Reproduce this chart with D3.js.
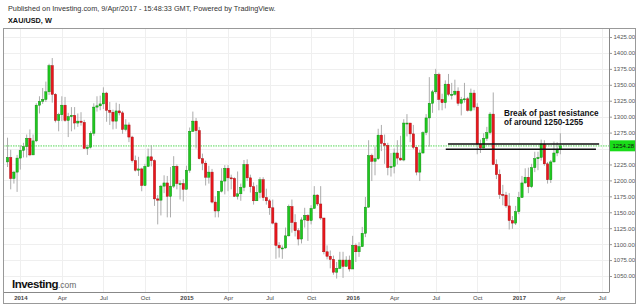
<!DOCTYPE html>
<html><head><meta charset="utf-8">
<script src="https://cdn.jsdelivr.net/npm/d3@7"></script>
<style>
body{margin:0;background:#fff}
svg{display:block;font-family:Arial,"Liberation Sans",Helvetica,sans-serif}
</style>
</head><body>
<svg id="c" width="640" height="305"></svg>
<script>
// ---- DATA (weekly XAU/USD candles) ----
const weeks = [
"2013-12-09","2013-12-16","2013-12-23","2013-12-30",
"2014-01-06","2014-01-13","2014-01-20","2014-01-27","2014-02-03","2014-02-10","2014-02-17","2014-02-24",
"2014-03-03","2014-03-10","2014-03-17","2014-03-24","2014-03-31","2014-04-07","2014-04-14","2014-04-21","2014-04-28",
"2014-05-05","2014-05-12","2014-05-19","2014-05-26","2014-06-02","2014-06-09","2014-06-16","2014-06-23","2014-06-30",
"2014-07-07","2014-07-14","2014-07-21","2014-07-28","2014-08-04","2014-08-11","2014-08-18","2014-08-25",
"2014-09-01","2014-09-08","2014-09-15","2014-09-22","2014-09-29","2014-10-06","2014-10-13","2014-10-20","2014-10-27",
"2014-11-03","2014-11-10","2014-11-17","2014-11-24","2014-12-01","2014-12-08","2014-12-15","2014-12-22","2014-12-29",
"2015-01-05","2015-01-12","2015-01-19","2015-01-26","2015-02-02","2015-02-09","2015-02-16","2015-02-23",
"2015-03-02","2015-03-09","2015-03-16","2015-03-23","2015-03-30","2015-04-06","2015-04-13","2015-04-20","2015-04-27",
"2015-05-04","2015-05-11","2015-05-18","2015-05-25","2015-06-01","2015-06-08","2015-06-15","2015-06-22","2015-06-29",
"2015-07-06","2015-07-13","2015-07-20","2015-07-27","2015-08-03","2015-08-10","2015-08-17","2015-08-24","2015-08-31",
"2015-09-07","2015-09-14","2015-09-21","2015-09-28","2015-10-05","2015-10-12","2015-10-19","2015-10-26",
"2015-11-02","2015-11-09","2015-11-16","2015-11-23","2015-11-30","2015-12-07","2015-12-14","2015-12-21","2015-12-28",
"2016-01-04","2016-01-11","2016-01-18","2016-01-25","2016-02-01","2016-02-08","2016-02-15","2016-02-22","2016-02-29",
"2016-03-07","2016-03-14","2016-03-21","2016-03-28","2016-04-04","2016-04-11","2016-04-18","2016-04-25",
"2016-05-02","2016-05-09","2016-05-16","2016-05-23","2016-05-30","2016-06-06","2016-06-13","2016-06-20","2016-06-27",
"2016-07-04","2016-07-11","2016-07-18","2016-07-25","2016-08-01","2016-08-08","2016-08-15","2016-08-22","2016-08-29",
"2016-09-05","2016-09-12","2016-09-19","2016-09-26","2016-10-03","2016-10-10","2016-10-17","2016-10-24","2016-10-31",
"2016-11-07","2016-11-14","2016-11-21","2016-11-28","2016-12-05","2016-12-12","2016-12-19","2016-12-26",
"2017-01-02","2017-01-09","2017-01-16","2017-01-23","2017-01-30","2017-02-06","2017-02-13","2017-02-20","2017-02-27",
"2017-03-06","2017-03-13","2017-03-20","2017-03-27","2017-04-03"
];
const open = [
1229,1236,1203,1213,
1235,1247,1253,1266, 1240,1262,1318,1324, 1327,1339,1380,1335,1294, 1303,1318,1294,1300, 1302,1290,1293,1291,
1250,1252,1274,1315,1317, 1320,1337,1310,1307, 1293,1309,1306,1280, 1287,1268,1231,1216,1218, 1192,1222,1237,1231,
1171,1169,1191,1196, 1175,1191,1222,1195,1195,
1186,1216,1277,1293, 1278,1234,1227,1205, 1213,1166,1152,1183,1199, 1219,1204,1203,1175, 1179,1189,1225,1204,
1190,1168,1181,1201,1173, 1168,1157,1133,1098, 1094,1094,1113,1159,1134, 1121,1108,1138,1145, 1137,1156,1177,1163,
1141,1088,1081,1076,1056, 1062,1075,1065,1075,
1061,1098,1088,1096, 1117,1158,1239,1230,1234, 1271,1258,1255,1220, 1222,1243,1235,1232, 1290,1290,1273,1252,1213,
1243,1275,1298,1321, 1339,1366,1327,1322, 1351,1335,1335,1340,1321, 1327,1328,1310,1337, 1315,1257,1251,1266,1275,
1304,1225,1209,1178, 1177,1160,1137,1133,
1151,1173,1196,1205,1190, 1220,1234,1236,1257, 1226,1201,1229,1243, 1249
];
const high = [
1267,1248,1215,1240,
1255,1259,1272,1280, 1272,1321,1332,1345, 1355,1383,1392,1337,1306, 1332,1331,1306,1315, 1315,1305,1307,1295,
1256,1277,1321,1332,1333, 1346,1339,1323,1311, 1322,1320,1309,1296, 1291,1270,1239,1237,1220, 1226,1250,1255,1233,
1177,1193,1208,1207, 1221,1238,1225,1200,1202,
1223,1283,1308,1298, 1284,1242,1231,1223, 1218,1175,1180,1219,1224, 1224,1209,1205,1214, 1195,1232,1233,1209,
1197,1193,1205,1205,1187, 1171,1170,1135,1103, 1098,1126,1162,1170,1147, 1125,1142,1157,1147, 1161,1191,1178,1191,
1141,1098,1090,1082,1072, 1088,1088,1081,1082,
1113,1101,1103,1127, 1174,1263,1242,1253,1281, 1287,1272,1259,1243, 1250,1263,1270,1296, 1304,1290,1287,1253,1248,
1277,1304,1362,1342, 1375,1369,1336,1357, 1367,1353,1358,1346,1331, 1353,1331,1344,1342, 1321,1264,1274,1284,1307,
1338,1233,1217,1193, 1182,1180,1144,1160,
1182,1207,1219,1220,1226, 1245,1245,1264,1263, 1229,1232,1261,1260, 1274
];
const low = [
1221,1186,1195,1182,
1217,1236,1236,1238, 1240,1260,1305,1320, 1323,1334,1322,1291,1277, 1293,1292,1268,1277, 1280,1284,1286,1251,
1240,1250,1270,1308,1310, 1312,1292,1287,1280, 1281,1302,1273,1277, 1260,1228,1214,1207,1183, 1191,1221,1222,1160,
1131,1145,1180,1142, 1142,1188,1186,1170,1167,
1186,1212,1276,1250, 1233,1216,1192,1195, 1164,1142,1142,1181,1178, 1183,1186,1174,1170, 1168,1183,1199,1181,
1162,1168,1172,1168,1162, 1146,1131,1077,1079, 1077,1093,1112,1118,1112, 1098,1101,1126,1105, 1131,1156,1160,1138,
1084,1076,1062,1052,1046, 1061,1047,1065,1057,
1061,1072,1080,1096, 1111,1157,1199,1208,1232, 1246,1226,1208,1206, 1211,1225,1231,1230, 1269,1260,1249,1208,1199,
1242,1271,1253,1306, 1336,1310,1310,1313, 1332,1327,1333,1317,1302, 1322,1308,1308,1310, 1241,1243,1250,1262,1272,
1224,1202,1171,1161, 1157,1123,1124,1130,
1147,1173,1195,1180,1188, 1213,1216,1231,1223, 1195,1196,1228,1238, 1241
];
const close = [
1236,1203,1213,1235,
1247,1253,1266,1240, 1262,1318,1324,1327, 1339,1380,1335,1294,1303, 1318,1294,1300,1302, 1290,1293,1291,1250,
1252,1274,1315,1317,1320, 1337,1310,1307,1293, 1309,1306,1280,1287, 1268,1231,1216,1218,1192, 1222,1237,1231,1171,
1169,1191,1196,1175, 1191,1222,1195,1195,1186,
1216,1277,1293,1278, 1234,1227,1205,1213, 1166,1152,1183,1199,1219, 1204,1203,1175,1179, 1189,1225,1204,1190,
1168,1181,1201,1173,1168, 1157,1133,1098,1094, 1094,1113,1159,1134,1121, 1108,1138,1145,1137, 1156,1177,1163,1141,
1088,1081,1076,1056,1062, 1075,1065,1075,1061,
1098,1088,1096,1117, 1158,1239,1230,1234,1271, 1258,1255,1220,1222, 1243,1235,1232,1290, 1290,1273,1252,1213,1243,
1275,1298,1321,1339, 1366,1327,1322,1351, 1335,1335,1340,1321,1327, 1328,1310,1337,1315, 1257,1251,1266,1275,1304,
1225,1209,1178,1177, 1160,1137,1133,1151,
1173,1196,1205,1190,1220, 1234,1236,1257,1226, 1201,1229,1243,1249, 1254.28
];
const lastPrice = 1254.28;
const priceTicks = [1050,1075,1100,1125,1150,1175,1200,1225,1250,1275,1300,1325,1350,1375,1400,1425];
// the 1250.00 label sits under the last-price tag in the reference, so it is not shown
const hiddenPriceLabels = [1250];
const timeTicks = ["2014-01-06","2014-04-07","2014-07-07","2014-10-06","2015-01-05","2015-04-06","2015-07-06","2015-10-05",
                   "2016-01-04","2016-04-04","2016-07-04","2016-10-03","2017-01-02","2017-04-03","2017-07-03"];
const timeTickLabels = ["2014","Apr","Jul","Oct","2015","Apr","Jul","Oct","2016","Apr","Jul","Oct","2017","Apr","Jul"];
// resistance annotation lines: price level, start week, end week
const resistLevels = [1257, 1249];
const resistStart = ["2016-07-31","2016-07-26"];
const resistEnd = ["2017-06-27","2017-06-20"];
const noteLines = ["Break of past resistance","of around 1250-1255"];

// ---- LAYOUT ----
const parse = d3.utcParse("%Y-%m-%d");
const svg = d3.select("#c");
const P = {l:3, r:609, t:28, b:292.5};

const x = d3.scaleUtc().domain([parse("2014-01-06"), parse("2017-01-02")]).range([20.3, 518.8]);
const y = d3.scaleLinear().domain([1050,1425]).range([276,37]);

const candles = weeks.map((w,i)=>({d:parse(w), o:open[i], h:high[i], l:low[i], c:close[i]}));

// header
svg.append("text").attr("x",8).attr("y",11).attr("font-size",7.3).attr("fill","#333")
  .text("Published on Investing.com, 9/Apr/2017 - 15:48:33 GMT, Powered by TradingView.");
svg.append("text").attr("x",8).attr("y",22.5).attr("font-size",7.3).attr("font-weight","bold").attr("fill","#111")
  .text("XAU/USD, W");

// clip
svg.append("clipPath").attr("id","pc").append("rect")
  .attr("x",P.l).attr("y",P.t).attr("width",P.r-P.l).attr("height",P.b-P.t);
const plot = svg.append("g").attr("clip-path","url(#pc)");

// gridlines
plot.append("g").selectAll("line").data(priceTicks).join("line")
  .attr("x1",P.l).attr("x2",P.r).attr("y1",d=>Math.round(y(d))+0.5).attr("y2",d=>Math.round(y(d))+0.5)
  .attr("stroke","#efefef");
plot.append("g").selectAll("line").data(timeTicks).join("line")
  .attr("y1",P.t).attr("y2",P.b).attr("x1",d=>Math.round(x(parse(d)))+0.5).attr("x2",d=>Math.round(x(parse(d)))+0.5)
  .attr("stroke","#efefef");

// last price line
plot.append("line").attr("x1",P.l).attr("x2",P.r).attr("y1",y(lastPrice)).attr("y2",y(lastPrice))
  .attr("stroke","#9ee89e").attr("stroke-width",1.8).attr("stroke-dasharray","1.5,1");

// wicks
plot.append("g").selectAll("line").data(candles).join("line")
  .attr("x1",d=>x(d.d)).attr("x2",d=>x(d.d)).attr("y1",d=>y(d.h)).attr("y2",d=>y(d.l))
  .attr("stroke","#a3a3a3").attr("stroke-width",0.9);
// bodies
const bw = 2.3;
plot.append("g").selectAll("rect").data(candles).join("rect")
  .attr("x",d=>x(d.d)-bw/2).attr("width",bw)
  .attr("y",d=>y(Math.max(d.o,d.c)))
  .attr("height",d=>Math.max(1,Math.abs(y(d.o)-y(d.c))))
  .attr("fill",d=>d.c>=d.o?"#1fc81f":"#e8161c")
  .attr("stroke",d=>d.c>=d.o?"#0c8a0c":"#a80c10").attr("stroke-width",0.45);

// resistance lines
plot.append("g").selectAll("line").data(resistLevels).join("line")
  .attr("x1",(d,i)=>x(parse(resistStart[i]))).attr("x2",(d,i)=>x(parse(resistEnd[i])))
  .attr("y1",d=>y(d)).attr("y2",d=>y(d)).attr("stroke","#111").attr("stroke-width",1.5);

// annotation text
svg.append("g").selectAll("text").data(noteLines).join("text")
  .attr("x",504).attr("y",(d,i)=>115.8+i*9.4)
  .attr("font-size",8.2).attr("font-weight","bold").attr("fill","#111").text(d=>d);

// logo
const logo = svg.append("text").attr("x",12).attr("y",288).attr("fill","#111");
logo.append("tspan").attr("font-size",11.5).attr("font-weight","bold").attr("letter-spacing",-0.5).text("Investing");
logo.append("tspan").attr("font-size",8.5).attr("fill","#666").text(".com");

// axes
const yAxis = d3.axisRight(y).tickValues(priceTicks)
  .tickFormat(d=>hiddenPriceLabels.includes(d)?"":d3.format(".2f")(d)).tickSize(3).tickPadding(1.5);
const gy = svg.append("g").attr("transform",`translate(${P.r},0)`).call(yAxis);
gy.select(".domain").remove();
gy.selectAll("line").attr("stroke","#999");
gy.selectAll("text").attr("font-size",6).attr("fill","#555").attr("font-family","Arial, Liberation Sans, sans-serif");

const xAxis = d3.axisBottom(x).tickValues(timeTicks.map(parse)).tickFormat((d,i)=>timeTickLabels[i]).tickSize(0).tickPadding(3);
const gx = svg.append("g").attr("transform",`translate(0,${P.b})`).call(xAxis);
gx.select(".domain").remove();
gx.selectAll("text").attr("font-size",6).attr("fill","#444").attr("font-family","Arial, Liberation Sans, sans-serif")
  .attr("font-weight",(d,i)=>/^\d{4}$/.test(timeTickLabels[i])?"bold":"normal");

// last price label
svg.append("rect").attr("x",P.r).attr("y",y(lastPrice)-5.5).attr("width",27).attr("height",11).attr("fill","#19dc19");
svg.append("text").attr("x",P.r+3.5).attr("y",y(lastPrice)+2.1).attr("font-size",6).attr("fill","#111").text(lastPrice.toFixed(2));

// frame & axis lines
svg.append("line").attr("x1",P.l).attr("x2",P.r).attr("y1",P.b).attr("y2",P.b).attr("stroke","#888");
svg.append("line").attr("x1",P.r+0.5).attr("x2",P.r+0.5).attr("y1",P.t).attr("y2",P.b).attr("stroke","#888");
svg.append("rect").attr("x",3.5).attr("y",28.5).attr("width",632).attr("height",275).attr("fill","none").attr("stroke","#999");
</script>
</body></html>
